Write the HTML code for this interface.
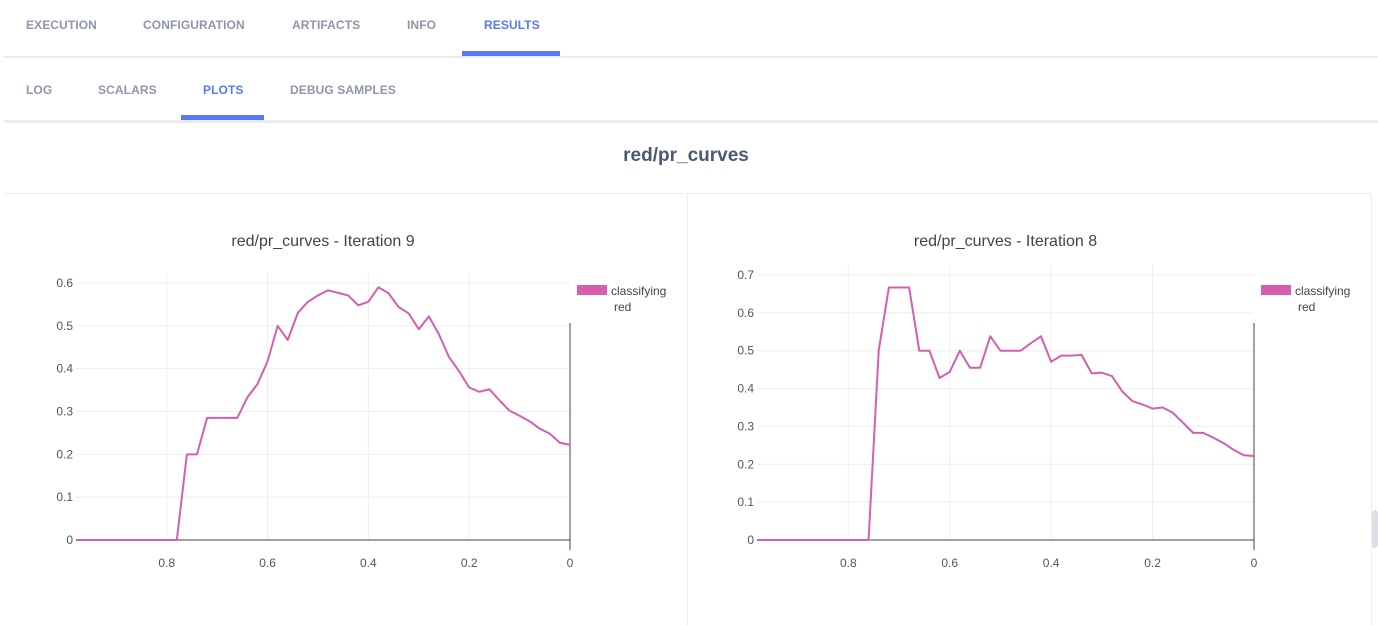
<!DOCTYPE html>
<html><head><meta charset="utf-8"><style>
body{margin:0;width:1378px;height:625px;overflow:hidden;background:#fff;font-family:"Liberation Sans",sans-serif;position:relative}
.t{position:absolute;font-size:12px;font-weight:bold;color:#8f95ab;letter-spacing:0.1px}
.a{color:#5a78f5}
.bar{position:absolute;background:#5a78f5}
.ln{position:absolute;background:#ececec}
</style></head><body>
<div class="t" style="left:26px;top:18px">EXECUTION</div>
<div class="t" style="left:143px;top:18px">CONFIGURATION</div>
<div class="t" style="left:292px;top:18px">ARTIFACTS</div>
<div class="t" style="left:407px;top:18px">INFO</div>
<div class="t a" style="left:484px;top:18px">RESULTS</div>
<div class="bar" style="left:462px;top:51px;width:98px;height:5px"></div>
<div class="ln" style="left:4px;top:56px;width:1374px;height:2px"></div>
<div class="t" style="left:26px;top:83px">LOG</div>
<div class="t" style="left:98px;top:83px">SCALARS</div>
<div class="t a" style="left:203px;top:83px">PLOTS</div>
<div class="t" style="left:290px;top:83px">DEBUG SAMPLES</div>
<div class="bar" style="left:181px;top:115px;width:83px;height:5px"></div>
<div class="ln" style="left:4px;top:120px;width:1374px;height:3px"></div>
<div style="position:absolute;left:0;width:1372px;top:145px;text-align:center;font-size:19px;font-weight:bold;color:#4d5878">red/pr_curves</div>
<div class="ln" style="left:4px;top:193px;width:1367px;height:1px"></div>
<div class="ln" style="left:687px;top:194px;width:1px;height:431px"></div>
<div class="ln" style="left:1371px;top:194px;width:1px;height:431px"></div>
<div style="position:absolute;left:1372px;top:510px;width:6px;height:38px;background:#dcdfe6;border-radius:3px"></div>
<svg id="svg" width="1378" height="625" style="position:absolute;left:0;top:0" font-family="Liberation Sans, sans-serif"></svg>
<script>
const xs=[0.98,0.96,0.94,0.92,0.9,0.88,0.86,0.84,0.82,0.8,0.78,0.76,0.74,0.72,0.7,0.68,0.66,0.64,0.62,0.6,0.58,0.56,0.54,0.52,0.5,0.48,0.46,0.44,0.42,0.4,0.38,0.36,0.34,0.32,0.3,0.28,0.26,0.24,0.22,0.2,0.18,0.16,0.14,0.12,0.1,0.08,0.06,0.04,0.02,0];
const prec9=[0,0,0,0,0,0,0,0,0,0,0,0.2,0.2,0.285,0.285,0.285,0.285,0.333,0.364,0.417,0.5,0.467,0.53,0.556,0.571,0.583,0.577,0.571,0.548,0.556,0.59,0.576,0.544,0.529,0.492,0.522,0.48,0.427,0.394,0.356,0.346,0.352,0.326,0.302,0.29,0.277,0.26,0.248,0.227,0.222];
const prec8=[0,0,0,0,0,0,0,0,0,0,0,0,0.5,0.667,0.667,0.667,0.5,0.5,0.428,0.444,0.5,0.455,0.455,0.538,0.5,0.5,0.5,0.52,0.538,0.471,0.487,0.487,0.489,0.44,0.442,0.433,0.393,0.367,0.358,0.347,0.35,0.336,0.31,0.283,0.283,0.27,0.256,0.238,0.224,0.222];
const xTicks=[0.8,0.6,0.4,0.2,0];
const xTickLabels=["0.8","0.6","0.4","0.2","0"];
const yTicks9=[0,0.1,0.2,0.3,0.4,0.5,0.6];
const yTicks8=[0,0.1,0.2,0.3,0.4,0.5,0.6,0.7];
const svg=document.getElementById('svg');
const NS='http://www.w3.org/2000/svg';
function mk(tag,at){const e=document.createElementNS(NS,tag);for(const k in at)e.setAttribute(k,at[k]);svg.appendChild(e);return e;}
function chart(o){
  const xmax=0.98;
  const X=v=>o.x1-(o.x1-o.x0)*(v/xmax);
  const Y=v=>o.yb+(o.yt-o.yb)*(v/o.ymax);
  let t=mk('text',{x:(o.x0+o.x1)/2,y:246,'text-anchor':'middle','font-size':'16',fill:'#444'});
  
  
  t.textContent=o.title;
  xTicks.forEach((v,i)=>{
    if(v>0){const g=mk('line',{x1:X(v),x2:X(v),y1:o.yt-10,y2:o.yb,stroke:'#eee'});
    
    }
    const l=mk('text',{x:X(v),y:o.yb+27,'text-anchor':'middle','font-size':'12',fill:'#555'});
    
    
    l.textContent=xTickLabels[i];
  });
  o.yt_.forEach(v=>{
    if(v>0){const g=mk('line',{x1:o.x0,x2:o.x1,y1:Y(v),y2:Y(v),stroke:'#eee'});
    
    }
    const l=mk('text',{x:o.x0-3,y:Y(v)+4,'text-anchor':'end','font-size':'12',fill:'#555'});
    
    
    l.textContent=String(v);
  });
  const z=mk('line',{x1:o.x0,x2:o.x1,y1:Y(0),y2:Y(0),stroke:'#444'});
  
  
  const va=mk('line',{x1:X(0),x2:X(0),y1:323,y2:o.yb+10,stroke:'#444'});
  
  
  const p=mk('polyline',{points:xs.map((v,i)=>X(v)+','+Y(o.data[i])).join(' '),fill:'none',stroke:'#d55fae','stroke-width':'2','stroke-linejoin':'round'});
  
  
  const lg=mk('rect',{x:o.lx,y:285,width:30,height:10,fill:'#d55fae'});
  
  
  const lt=mk('text',{x:o.lx+34,y:295,'font-size':'12',fill:'#444'});
  
  
  lt.textContent='classifying';
  const lt2=mk('text',{x:o.lx+37,y:311,'font-size':'12',fill:'#444'});
  
  
  lt2.textContent='red';
}
chart({title:'red/pr_curves - Iteration 9',x0:76,x1:570,yb:540,yt:283,ymax:0.6,yt_:yTicks9,data:prec9,lx:577});
chart({title:'red/pr_curves - Iteration 8',x0:757,x1:1254,yb:540,yt:275,ymax:0.7,yt_:yTicks8,data:prec8,lx:1261});
</script>
</body></html>
